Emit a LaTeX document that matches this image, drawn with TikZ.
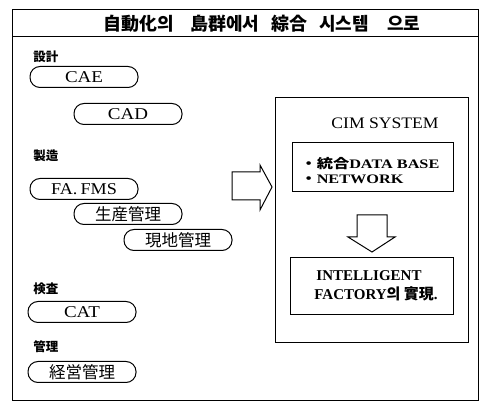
\documentclass[tikz,border=0pt]{standalone}
\usepackage{fontspec}
\usepackage{graphicx}
\setmainfont{Liberation Serif}
\newfontfamily\cjk{Noto Sans CJK KR}
\newcommand\wider[2]{\scalebox{#1}[1]{#2}}
\begin{document}
\begin{tikzpicture}[x=1pt,y=-1pt,line width=1pt,
  pill/.style={draw, rounded corners=10pt, minimum width=108pt, minimum height=21pt, inner sep=0pt, font=\fontsize{16.5}{16.5}\selectfont},
  lbl/.style={anchor=west, inner sep=0pt, font=\cjk\bfseries\fontsize{12.5}{12.5}\selectfont},
  boxed/.style={draw, inner sep=0pt},
  txt/.style={inner sep=0pt}]
\useasboundingbox (0,0) rectangle (480,403);
% frame
\draw (12,10) rectangle (478,401);
\draw (12,37) -- (478,37);
\node[txt] (title) at (262,24) {\cjk\bfseries\fontsize{18}{18}\selectfont 自動化의\hspace{16pt}島群에서\hspace{12pt}綜合\hspace{12pt}시스템\hspace{18pt}으로};
% left column
\node[lbl] (lset) at (33,57) {設計};
\node[pill] (cae) at (84,77) {\wider{1.15}{CAE}};
\node[pill] (cad) at (128,114) {\wider{1.15}{CAD}};
\node[lbl] (lmfg) at (33,156) {製造};
\node[pill] (fafms) at (84,189) {\wider{1.1}{FA.\,FMS}};
\node[pill] (prod) at (128,214) {\cjk 生産管理};
\node[pill] (site) at (178,240) {\cjk 現地管理};
\node[lbl] (linsp) at (33,289) {検査};
\node[pill] (cat) at (82,312) {\wider{1.15}{CAT}};
\node[lbl] (lmgmt) at (33,347) {管理};
\node[pill] (mgmt) at (82,372) {\cjk 経営管理};
% right block
\node[boxed, minimum width=193pt, minimum height=245pt] (cim) at (371.5,220.5) {};
\node[txt, font=\fontsize{16}{16}\selectfont] (cimt) at (385,123) {\wider{1.1}{CIM SYSTEM}};
\node[boxed, minimum width=161pt, minimum height=49pt] (db) at (372.5,167.5) {};
\node[txt, anchor=west, font=\bfseries\fontsize{13}{13}\selectfont] (dbt1) at (300,164) {\wider{1.25}{{\cjk ・}{\cjk 統合}DATA BASE}};
\node[txt, anchor=west, font=\bfseries\fontsize{13}{13}\selectfont] (dbt2) at (300,179) {\wider{1.25}{{\cjk ・}NETWORK}};
\node[boxed, minimum width=163pt, minimum height=57pt] (fac) at (371.5,286.5) {};
\node[txt, font=\bfseries\fontsize{15}{15}\selectfont] (fact1) at (369,276) {INTELLIGENT};
\node[txt, font=\bfseries\fontsize{15}{15}\selectfont] (fact2) at (376,294) {FACTORY{\cjk 의 實現}.};
% hollow arrows
\draw (232,172) -- (260,172) -- (260,165) -- (272,187) -- (260,210) -- (260,200) -- (232,200) -- cycle;
\draw (357,215) -- (387,215) -- (387,237) -- (395,237) -- (372,252) -- (348,237) -- (357,237) -- cycle;
\end{tikzpicture}
\end{document}
